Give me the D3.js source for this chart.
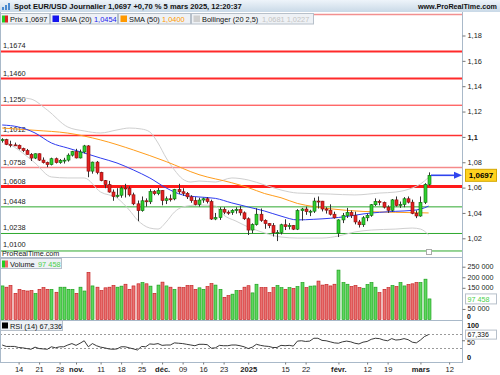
<!DOCTYPE html>
<html><head><meta charset="utf-8">
<script src="https://cdn.jsdelivr.net/npm/d3@7"></script>
<style>
body{margin:0;background:#fff;}
svg{display:block;font-family:"Liberation Sans",Arial,sans-serif;}
</style></head><body>
<svg id="chart" width="500" height="375"></svg>
<script>
// daily candles, EUR/USD spot (Dec 25 and Jan 1 not traded)
const dates = ["08/10","09/10","10/10","11/10","14/10","15/10","16/10","17/10","18/10","21/10","22/10","23/10","24/10","25/10","28/10","29/10","30/10","31/10",
 "01/11","04/11","05/11","06/11","07/11","08/11","11/11","12/11","13/11","14/11","15/11","18/11","19/11","20/11","21/11","22/11","25/11","26/11","27/11","28/11","29/11",
 "02/12","03/12","04/12","05/12","06/12","09/12","10/12","11/12","12/12","13/12","16/12","17/12","18/12","19/12","20/12","23/12","24/12","26/12","27/12","30/12","31/12",
 "02/01","03/01","06/01","07/01","08/01","09/01","10/01","13/01","14/01","15/01","16/01","17/01","20/01","21/01","22/01","23/01","24/01","27/01","28/01","29/01","30/01","31/01",
 "03/02","04/02","05/02","06/02","07/02","10/02","11/02","12/02","13/02","14/02","17/02","18/02","19/02","20/02","21/02","24/02","25/02","26/02","27/02","28/02",
 "03/03","04/03","05/03"];
const opens = [1.0975,1.0978,1.0941,1.0937,1.0934,1.0908,1.0892,1.0862,1.0833,1.0867,1.0817,1.0797,1.0781,1.0828,1.0797,1.0815,1.0817,1.0856,
 1.0884,1.0834,1.0881,1.0929,1.0730,1.0801,1.0720,1.0655,1.0623,1.0565,1.0530,1.0540,1.0597,1.0595,1.0543,1.0472,1.0418,1.0496,1.0488,1.0568,1.0552,
 1.0577,1.0498,1.0512,1.0511,1.0585,1.0567,1.0555,1.0527,1.0497,1.0467,1.0502,1.0512,1.0490,1.0352,1.0363,1.0428,1.0406,1.0404,1.0421,1.0427,1.0401,
 1.0354,1.0265,1.0308,1.0390,1.0342,1.0316,1.0300,1.0244,1.0245,1.0307,1.0292,1.0301,1.0272,1.0418,1.0431,1.0410,1.0414,1.0494,1.0493,1.0431,1.0422,1.0390,
 1.0240,1.0345,1.0379,1.0404,1.0380,1.0329,1.0307,1.0362,1.0381,1.0465,1.0491,1.0483,1.0446,1.0421,1.0503,1.0459,1.0467,1.0512,1.0485,1.0397,
 1.0376,1.0484,1.0626];
const highs = [1.0990,1.0985,1.0970,1.0955,1.0940,1.0915,1.0905,1.0872,1.0870,1.0870,1.0838,1.0805,1.0836,1.0837,1.0825,1.0835,1.0870,1.0890,
 1.0906,1.0900,1.0937,1.0935,1.0805,1.0810,1.0725,1.0660,1.0653,1.0585,1.0595,1.0610,1.0630,1.0610,1.0560,1.0498,1.0530,1.0515,1.0588,1.0580,1.0597,
 1.0580,1.0530,1.0545,1.0590,1.0630,1.0595,1.0565,1.0540,1.0525,1.0520,1.0520,1.0525,1.0505,1.0400,1.0445,1.0445,1.0420,1.0430,1.0445,1.0455,1.0412,
 1.0365,1.0318,1.0437,1.0435,1.0350,1.0320,1.0320,1.0265,1.0315,1.0350,1.0320,1.0305,1.0430,1.0440,1.0450,1.0425,1.0520,1.0530,1.0495,1.0445,1.0468,1.0410,
 1.0350,1.0400,1.0440,1.0420,1.0410,1.0345,1.0375,1.0395,1.0470,1.0515,1.0505,1.0490,1.0460,1.0510,1.0530,1.0490,1.0525,1.0530,1.0505,1.0420,
 1.0530,1.0635,1.0720];
const lows = [1.0955,1.0935,1.0918,1.0928,1.0900,1.0880,1.0860,1.0810,1.0825,1.0810,1.0790,1.0761,1.0775,1.0790,1.0788,1.0790,1.0805,1.0845,
 1.0830,1.0830,1.0870,1.0682,1.0710,1.0705,1.0650,1.0595,1.0560,1.0496,1.0520,1.0520,1.0522,1.0530,1.0461,1.0335,1.0410,1.0450,1.0470,1.0540,1.0540,
 1.0460,1.0470,1.0490,1.0500,1.0550,1.0535,1.0510,1.0480,1.0460,1.0450,1.0480,1.0475,1.0345,1.0343,1.0345,1.0390,1.0385,1.0385,1.0395,1.0380,1.0345,
 1.0226,1.0240,1.0300,1.0330,1.0275,1.0280,1.0214,1.0178,1.0230,1.0265,1.0270,1.0265,1.0265,1.0340,1.0385,1.0375,1.0400,1.0435,1.0412,1.0395,1.0380,1.0355,
 1.0210,1.0320,1.0360,1.0360,1.0310,1.0285,1.0290,1.0335,1.0370,1.0455,1.0460,1.0435,1.0400,1.0410,1.0450,1.0440,1.0445,1.0475,1.0390,1.0359,
 1.0370,1.0470,1.0615];
const closes = [1.0978,1.0941,1.0937,1.0934,1.0908,1.0892,1.0862,1.0833,1.0867,1.0817,1.0797,1.0781,1.0828,1.0797,1.0815,1.0817,1.0856,1.0884,
 1.0834,1.0881,1.0929,1.0730,1.0801,1.0720,1.0655,1.0623,1.0565,1.0530,1.0540,1.0597,1.0595,1.0543,1.0472,1.0418,1.0496,1.0488,1.0568,1.0552,1.0577,
 1.0498,1.0512,1.0511,1.0585,1.0567,1.0555,1.0527,1.0497,1.0467,1.0502,1.0512,1.0490,1.0352,1.0363,1.0428,1.0406,1.0404,1.0421,1.0427,1.0401,1.0354,
 1.0265,1.0308,1.0390,1.0342,1.0316,1.0300,1.0244,1.0245,1.0307,1.0292,1.0301,1.0272,1.0418,1.0431,1.0410,1.0414,1.0494,1.0493,1.0431,1.0422,1.0390,1.0362,
 1.0345,1.0379,1.0404,1.0380,1.0329,1.0307,1.0362,1.0381,1.0465,1.0491,1.0483,1.0446,1.0421,1.0503,1.0459,1.0467,1.0512,1.0485,1.0397,1.0376,
 1.0484,1.0626,1.0697];
// volume in thousands
const volumes = [159,153,161,124,143,137,135,137,123,143,151,143,143,129,153,153,143,143,124,153,135,223,159,153,137,150,153,161,153,158,
 167,143,159,169,175,169,158,124,163,177,159,153,143,153,151,161,161,143,150,143,156,170,163,143,105,113,120,137,137,153,160,
 126,167,151,151,127,151,161,151,143,151,147,156,175,151,158,159,182,163,166,159,167,234,175,167,156,161,151,148,166,175,153,127,
 143,151,161,156,175,159,166,169,175,175,191,97.458];
const rsi = [38,34,34,34,31,30,28,26,32,28,27,26,33,30,33,33,38,42,37,43,50,33,42,36,32,30,27,26,27,33,33,30,27,24,34,33,41,40,42,
 37,38,38,44,43,42,40,38,36,40,40,39,29,30,37,36,36,38,38,36,33,28,32,40,37,35,34,31,31,37,36,37,35,49,50,48,49,57,57,51,50,47,44,
 43,47,49,47,43,41,46,48,54,57,56,52,50,56,52,53,56,53,46,44,52,62,67.336];
// indicator readings [candle index, value]
const sma20 = [[0,1.1094],[4,1.1078],[8,1.1031],[12,1.0952],[16,1.0912],[20,1.0873],[24,1.0833],[28,1.0794],[32,1.0739],[36,1.0676],[40,1.0597],
 [44,1.0542],[48,1.0526],[52,1.0515],[56,1.0479],[60,1.0447],[64,1.0415],[68,1.0375],[72,1.0345],[76,1.0350],[80,1.0358],[84,1.0372],[88,1.0392],
 [92,1.0405],[96,1.0413],[100,1.0420],[102,1.0430],[104,1.0454]];
const sma50 = [[0,1.1070],[8,1.1052],[16,1.1030],[24,1.0976],[32,1.0897],[40,1.0805],[48,1.0702],[56,1.0638],[60,1.0600],[64,1.0553],[68,1.0520],
 [72,1.0475],[76,1.0450],[80,1.0433],[88,1.0412],[96,1.0405],[104,1.0400]];
const bollUpper = [[5,1.1307],[7,1.1299],[11,1.1212],[16,1.1078],[20,1.1047],[24,1.1031],[28,1.1055],[31,1.1070],[34,1.1062],[36,1.1039],[38,1.0952],
 [40,1.0834],[42,1.0739],[44,1.0668],[46,1.0644],[48,1.0652],[52,1.0644],[56,1.0676],[60,1.0660],[64,1.0621],[68,1.0581],[72,1.0557],[80,1.0549],
 [86,1.0542],[92,1.0557],[96,1.0565],[100,1.0597],[102,1.0628],[104,1.0681]];
const bollLower = [[0,1.0976],[4,1.0897],[8,1.0794],[12,1.0684],[16,1.0676],[20,1.0676],[24,1.0565],[28,1.0518],[31,1.0423],[33,1.0344],[36,1.0281],
 [38,1.0273],[40,1.0329],[42,1.0407],[44,1.0447],[48,1.0463],[52,1.0455],[54,1.0384],[57,1.0336],[60,1.0289],[64,1.0242],[68,1.0210],[72,1.0202],
 [78,1.0202],[82,1.0218],[86,1.0250],[90,1.0265],[96,1.0273],[100,1.0281],[102,1.0273],[104,1.0227]];
const levels = [1.1674,1.1460,1.1250,1.1012,1.0758,1.0608,1.0448,1.0238,1.0100];
const levelLabels = ["1,1674","1,1460","1,1250","1,1012","1,0758","1,0608","1,0448","1,0238","1,0100"];
const levelColors = ["#ff2a2a","#ff2a2a","#ff2a2a","#ff3030","#f58a8a","#ff1a1a","#2ea82e","#2ea82e","#2ea82e"];
const levelWidths = [2,2,1,1.5,1.5,3,1,1,1];
const priceTicks = [1.18,1.16,1.14,1.12,1.10,1.08,1.06,1.04,1.02];
const priceTickLabels = ["1,18","1,16","1,14","1,12","1,1","1,08","1,06","1,04","1,02"];
const volTicks = [250000,200000,150000,50000];
const volTickLabels = ["250 000","200 000","150 000","50 000"];
const xTickIdx = [4,9,14,18,24,29,34,39,44,49,54,60,69,74,82,89,94,102,109];
const xTickLabels = ["14","21","28","nov.","11","18","25","déc.","09","16","23","2025","15","22","févr.","12","19","mars","12"];
const boldTicks = ["nov.","déc.","2025","févr.","mars"];

const svg = d3.select("#chart");
const right = 462;
const x = d3.scaleLinear().domain([0, 112.14]).range([2.2, right]);
const y = d3.scaleLinear().domain([1.18, 1.02]).range([35.5, 238.3]);
const yv = d3.scaleLinear().domain([0, 250000]).range([319.5, 266.7]);
const yr = d3.scaleLinear().domain([0, 100]).range([358.5, 323]);
const axisCol = "#a9b9c9";

// header
const grad = svg.append("defs").append("linearGradient").attr("id","hdr").attr("x1",0).attr("x2",0).attr("y1",0).attr("y2",1);
grad.append("stop").attr("offset","0%").attr("stop-color","#eef4fa");
grad.append("stop").attr("offset","100%").attr("stop-color","#c9d9e7");
svg.append("rect").attr("x",0).attr("y",0).attr("width",500).attr("height",12).attr("fill","url(#hdr)");
[[2,6],[5,4],[8,2]].forEach(function(b){
  svg.append("rect").attr("x",b[0]).attr("y",b[1]+1).attr("width",2).attr("height",9-b[1]).attr("fill","#4a8ad0");
});
svg.append("text").attr("x",14).attr("y",9).attr("font-size",7.6).attr("font-weight","bold").attr("fill","#111")
  .text("Spot EUR/USD Journalier 1,0697 +0,70 % 5 mars 2025, 12:20:37");
svg.append("text").attr("x",497).attr("y",9).attr("text-anchor","end").attr("font-size",7.2).attr("font-weight","bold").attr("fill","#111")
  .text("www.ProRealTime.com");

// main panel
const clip = svg.append("defs").append("clipPath").attr("id","main");
clip.append("rect").attr("x",0).attr("y",13).attr("width",right).attr("height",244);
const main = svg.append("g").attr("clip-path","url(#main)");
main.append("line").attr("x1",0).attr("x2",right).attr("y1",14.5).attr("y2",14.5).attr("stroke","#f29090").attr("stroke-width",1.5);

levels.forEach(function(v,i){
  main.append("line").attr("x1",0).attr("x2",right).attr("y1",y(v)).attr("y2",y(v))
    .attr("stroke",levelColors[i]).attr("stroke-width",levelWidths[i]);
  main.append("text").attr("x",3).attr("y",y(v)-(i === 8 ? 4 : 3)).attr("font-size",7.4).attr("fill","#222").text(levelLabels[i]);
});

const curve = d3.line().x(d => x(d[0])).y(d => y(d[1])).curve(d3.curveMonotoneX);
main.append("path").attr("d",curve(bollUpper)).attr("fill","none").attr("stroke","#cfcfcf").attr("stroke-width",1);
main.append("path").attr("d",curve(bollLower)).attr("fill","none").attr("stroke","#cfcfcf").attr("stroke-width",1);
main.append("path").attr("d",curve(sma50)).attr("fill","none").attr("stroke","#ff9d1c").attr("stroke-width",1);
main.append("path").attr("d",curve(sma20)).attr("fill","none").attr("stroke","#2f3cf0").attr("stroke-width",1);

const idx = d3.range(dates.length);
main.selectAll(".wick").data(idx).join("line")
  .attr("x1",i => Math.round(x(i))+0.5).attr("x2",i => Math.round(x(i))+0.5)
  .attr("y1",i => y(highs[i])).attr("y2",i => y(lows[i]))
  .attr("stroke","#333").attr("stroke-width",1);
main.selectAll(".body").data(idx).join("rect")
  .attr("x",i => Math.round(x(i))-1)
  .attr("y",i => y(Math.max(opens[i],closes[i])))
  .attr("width",3)
  .attr("height",i => Math.max(1, Math.abs(y(opens[i])-y(closes[i]))))
  .attr("fill",i => closes[i] >= opens[i] ? "#2fcf2f" : "#e32222")
  .attr("stroke",i => closes[i] >= opens[i] ? "#0b6a0b" : "#8a0d0d")
  .attr("stroke-width",0.6);

// price arrow
const lastY = y(closes[closes.length-1]);
svg.append("line").attr("x1",431).attr("x2",455).attr("y1",lastY).attr("y2",lastY).attr("stroke","#2f44ee").attr("stroke-width",1.6);
svg.append("path").attr("d",`M454,${lastY-3.5}L462,${lastY}L454,${lastY+3.5}Z`).attr("fill","#2f44ee");

svg.append("text").attr("x",2).attr("y",255.5).attr("font-size",7.2).attr("fill","#222").text("ProRealTime.com");
svg.append("rect").attr("x",426.5).attr("y",249.5).attr("width",5).attr("height",5).attr("fill","#fff").attr("stroke","#aaa");

// legend row
function legendBox(x0, w){
  svg.append("rect").attr("x",x0+0.5).attr("y",13.5).attr("width",w).attr("height",10.5).attr("fill","#eef1f5").attr("stroke","#b7c0ca");
}
legendBox(0,49); legendBox(50,67); legendBox(118,72); legendBox(191,122);
svg.append("rect").attr("x",2).attr("y",15.5).attr("width",3).attr("height",7).attr("fill","#2c2");
svg.append("rect").attr("x",5).attr("y",15.5).attr("width",3).attr("height",7).attr("fill","#d22");
svg.append("rect").attr("x",52.5).attr("y",15.5).attr("width",6.5).attr("height",6.5).attr("fill","#1515ee");
svg.append("rect").attr("x",120.5).attr("y",15.5).attr("width",6.5).attr("height",6.5).attr("fill","#ff9900");
svg.append("rect").attr("x",193.5).attr("y",15.5).attr("width",6.5).attr("height",6.5).attr("fill","#cfcfcf");
function legText(x0, t, col){
  svg.append("text").attr("x",x0).attr("y",21.5).attr("font-size",7.4).attr("fill",col).text(t);
}
legText(10,"Prix 1,0697","#111");
legText(61,"SMA (20)","#111"); legText(94,"1,0454","#2222ee");
legText(129,"SMA (50)","#111"); legText(162,"1,0400","#ff9900");
legText(202,"Bollinger (20 2,5)","#111"); legText(262,"1,0681 1,0227","#c4c4c4");

// volume panel
const volG = svg.append("g");
volG.selectAll("rect").data(idx).join("rect")
  .attr("x",i => Math.round(x(i))-1)
  .attr("y",i => yv(volumes[i]*1000))
  .attr("width",3)
  .attr("height",i => yv(0)-yv(volumes[i]*1000))
  .attr("fill",i => closes[i] >= opens[i] ? "#5fd65f" : "#ea7272")
  .attr("stroke",i => closes[i] >= opens[i] ? "#119911" : "#c01515")
  .attr("stroke-width",0.6);
svg.append("rect").attr("x",0.5).attr("y",258.5).attr("width",61).attr("height",10).attr("fill","#eef1f5").attr("stroke","#b7c0ca");
svg.append("rect").attr("x",2).attr("y",260.5).attr("width",3).attr("height",7).attr("fill","#2c2");
svg.append("rect").attr("x",5).attr("y",260.5).attr("width",3).attr("height",7).attr("fill","#e66");
svg.append("text").attr("x",10).attr("y",266.5).attr("font-size",7.4).attr("fill","#111").text("Volume");
svg.append("text").attr("x",38).attr("y",266.5).attr("font-size",7.4).attr("fill","#4bd04b").text("97 458");

// RSI panel
[70,30].forEach(function(v){
  svg.append("line").attr("x1",0).attr("x2",right).attr("y1",Math.round(yr(v))+0.5).attr("y2",Math.round(yr(v))+0.5)
    .attr("stroke","#9a9a9a").attr("stroke-dasharray","2,2");
});
svg.append("path").attr("d",d3.line().x((d,i) => x(i)).y(d => yr(d))(rsi)).attr("fill","none").attr("stroke","#222").attr("stroke-width",0.9);
svg.append("rect").attr("x",0.5).attr("y",320.5).attr("width",62).attr("height",10).attr("fill","#eef1f5").attr("stroke","#b7c0ca");
svg.append("rect").attr("x",2).attr("y",322.5).attr("width",6).attr("height",6).attr("fill","#000");
svg.append("text").attr("x",10).attr("y",328.5).attr("font-size",7.4).attr("fill","#111").text("RSI (14) 67,336");

// frame lines
[257.5,320.5,362.5].forEach(function(v){
  svg.append("line").attr("x1",0).attr("x2",right).attr("y1",v).attr("y2",v).attr("stroke",axisCol);
});
svg.append("line").attr("x1",0.5).attr("x2",0.5).attr("y1",12).attr("y2",362).attr("stroke",axisCol);
svg.append("line").attr("x1",right+0.5).attr("x2",right+0.5).attr("y1",12).attr("y2",363).attr("stroke",axisCol);

// right price axis
const pAxis = svg.append("g").attr("transform",`translate(${right+0.5},0)`)
  .call(d3.axisRight(y).tickValues(priceTicks).tickSize(3).tickFormat((d,i) => priceTickLabels[i]));
pAxis.select(".domain").remove();
pAxis.selectAll("line").attr("stroke","#777");
pAxis.selectAll("text").attr("font-size",7.4).attr("fill","#222").attr("x",5)
  .attr("font-weight",(d,i) => priceTickLabels[i] === "1,1" ? "bold" : "normal");
svg.append("rect").attr("x",465.5).attr("y",lastY-6).attr("width",31).attr("height",12).attr("fill","#ffd21f").attr("stroke","#d4a800");
svg.append("text").attr("x",481).attr("y",lastY+3).attr("text-anchor","middle").attr("font-size",8).attr("font-weight","bold").attr("fill","#000").text("1,0697");

// right volume axis
const vAxis = svg.append("g").attr("transform",`translate(${right+0.5},0)`)
  .call(d3.axisRight(yv).tickValues(volTicks).tickSize(3).tickFormat((d,i) => volTickLabels[i]));
vAxis.select(".domain").remove();
vAxis.selectAll("line").attr("stroke","#777");
vAxis.selectAll("text").attr("font-size",7.2).attr("fill","#222").attr("x",5).attr("dy","0.25em");
svg.append("text").attr("x",467).attr("y",318.6).attr("font-size",6.8).attr("font-weight","bold").attr("fill","#111").text("0");
svg.append("rect").attr("x",465.5).attr("y",yv(97458)-5).attr("width",31).attr("height",10).attr("fill","#fff").attr("stroke","#b7c0ca");
svg.append("text").attr("x",467.5).attr("y",yv(97458)+3).attr("font-size",7.2).attr("fill","#4bd04b").text("97 458");

// right RSI axis
svg.append("text").attr("x",467).attr("y",328).attr("font-size",7.2).attr("font-weight","bold").attr("fill","#111").text("100");
svg.append("text").attr("x",467).attr("y",yr(50)+4).attr("font-size",7.2).attr("fill","#222").text("50");
svg.append("text").attr("x",467).attr("y",360).attr("font-size",7.4).attr("font-weight","bold").attr("fill","#111").text("0");
svg.append("line").attr("x1",right).attr("x2",right+3).attr("y1",yr(50)).attr("y2",yr(50)).attr("stroke","#777");
svg.append("rect").attr("x",465.5).attr("y",yr(67.336)-4.5).attr("width",31).attr("height",9).attr("fill","#fff").attr("stroke","#b7c0ca");
svg.append("text").attr("x",467.5).attr("y",yr(67.336)+2.3).attr("font-size",7).attr("fill","#111").text("67,336");

// x axis
const xAxis = svg.append("g").attr("transform","translate(0,362.5)")
  .call(d3.axisBottom(x).tickValues(xTickIdx).tickSize(2).tickFormat((d,i) => xTickLabels[i]));
xAxis.select(".domain").remove();
xAxis.selectAll("line").attr("stroke","#777");
xAxis.selectAll("text").attr("font-size",7.6).attr("fill","#222").attr("y",4)
  .attr("font-weight",(d,i) => boldTicks.includes(xTickLabels[i]) ? "bold" : "normal");
</script>
</body></html>
